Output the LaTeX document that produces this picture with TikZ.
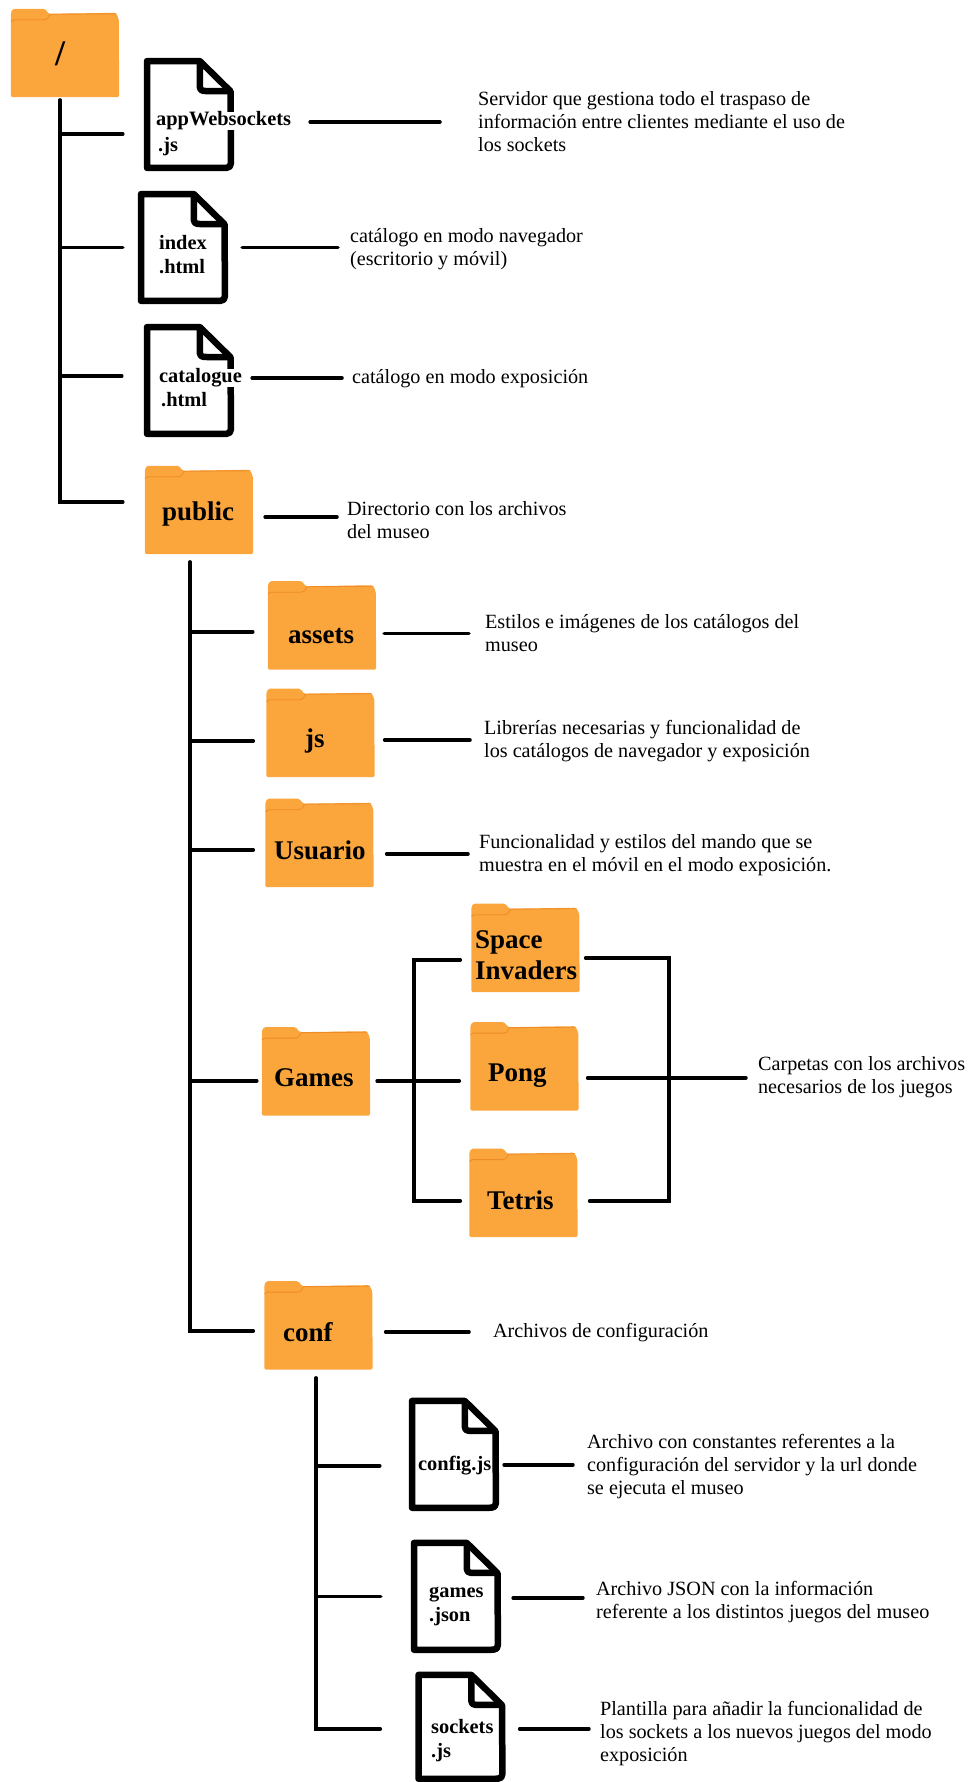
\documentclass[tikz,border=0pt]{standalone}
\usepackage{fontspec}
\setmainfont{Liberation Serif}
\definecolor{folderbody}{HTML}{FBA63D}
\definecolor{folderedge}{HTML}{EF8C28}

\begin{document}
\begin{tikzpicture}
    [x=1pt,y=-1pt,
    link/.style={line width=3.6pt,line cap=round,line join=miter},
    note/.style={anchor=west,align=left,inner sep=0pt,font=\fontsize{20.2}{23}\selectfont},
    docname/.style={anchor=base west,inner sep=0pt,font=\fontsize{20.4}{24}\bfseries\selectfont},
    foldername/.style={anchor=base west,align=left,inner sep=0pt,font=\fontsize{27}{31}\bfseries\selectfont},
    docfile/.style={rectangle,inner sep=0pt,minimum width=90pt,minimum height=113pt,
        append after command={\pgfextra{\let\docnode\tikzlastnode
            \draw [line width=6.5pt,line join=round]
            (\docnode.north west) ++(3.25,3.25) -- ++(52.75,0) -- ++(30.75,30.25)
            -- ([shift={(-3.25,-13.25)}]\docnode.south east)
            .. controls ([shift={(-3.25,-3.25)}]\docnode.south east) .. ([shift={(-13.25,-3.25)}]\docnode.south east)
            -- ([shift={(3.25,-3.25)}]\docnode.south west) -- cycle;
            \draw [line width=6.5pt,line join=round]
            (\docnode.north west) ++(56,3.25) -- ++(0,21)
            .. controls ++(0,9) .. ++(9,9) -- ++(21.75,0);
        }}},
    folder/.style={rectangle,inner sep=0pt,minimum width=108pt,minimum height=88pt,
        append after command={\pgfextra{\let\foldernode\tikzlastnode
            \fill [folderbody,rounded corners=1.5pt]
            (\foldernode.north west) ++(0,4) -- ++(2,-4) -- ++(32,0) -- ++(4,5) -- ++(67,-1)
            -- ++(3,6) -- (\foldernode.south east) -- (\foldernode.south west) -- cycle;
            \draw [folderedge,line width=.9pt,rounded corners=1.5pt]
            (\foldernode.north west) ++(.5,13) -- ++(1,-2) -- ++(33,0) -- ++(3,-1.5) -- ++(1,-4) -- ++(67,-.5);
        }}}]

    % carpetas
    \node [folder] (root) at (65,53) {};
    \node [folder] (public) at (199,510) {};
    \node [folder] (assets) at (322,625.5) {};
    \node [folder] (js) at (320.5,733) {};
    \node [folder] (usuario) at (319.5,843) {};
    \node [folder] (games) at (316,1071.5) {};
    \node [folder] (space) at (525.5,948) {};
    \node [folder] (pong) at (524.5,1066.5) {};
    \node [folder] (tetris) at (523.5,1193) {};
    \node [folder] (conf) at (318.5,1325.5) {};
    \node [foldername,font=\fontsize{36}{36}\bfseries\selectfont] (rootname) at (55,66) {/};
    \node [foldername] (publicname) at (162,521) {public};
    \node [foldername] (assetsname) at (288,644) {assets};
    \node [foldername] (jsname) at (305,748) {js};
    \node [foldername] (usuarioname) at (274,860) {Usuario};
    \node [foldername] (gamesname) at (274,1087) {Games};
    \node [foldername,anchor=west] (spacename) at (475,955) {Space\\Invaders};
    \node [foldername] (pongname) at (488,1082) {Pong};
    \node [foldername] (tetrisname) at (487,1210) {Tetris};
    \node [foldername] (confname) at (283,1342) {conf};

    % archivos
    \node [docfile] (app) at (189,114.5) {};
    \node [docfile] (index) at (183,247.5) {};
    \node [docfile] (catalogue) at (189,380.5) {};
    \node [docfile] (config) at (454,1454.5) {};
    \node [docfile] (gamesjson) at (456,1596.5) {};
    \node [docfile,minimum height=110pt] (sockets) at (460.5,1727) {};
    \node [docname,fill=white] (appname) at (156,126) {appWebsockets};
    \node [docname] (appext) at (158,152) {.js};
    \node [docname] (indexname) at (159,250) {index};
    \node [docname] (indexext) at (159,274) {.html};
    \node [docname,fill=white] (cataloguename) at (159,383) {catalogue};
    \node [docname] (catalogueext) at (161,407) {.html};
    \node [docname] (configname) at (418,1471) {config.js};
    \node [docname] (gamesjsonname) at (429,1598) {games};
    \node [docname] (gamesjsonext) at (429,1622) {.json};
    \node [docname] (socketsname) at (431,1734) {sockets};
    \node [docname] (socketsext) at (431,1758) {.js};

    % textos
    \node [note] (appnote) at (478,122) {Servidor que gestiona todo el traspaso de\\información entre clientes mediante el uso de\\los sockets};
    \node [note] (indexnote) at (350,249) {catálogo en modo navegador\\(escritorio y móvil)};
    \node [note] (cataloguenote) at (352,379) {catálogo en modo exposición};
    \node [note] (publicnote) at (347,520) {Directorio con los archivos\\del museo};
    \node [note] (assetsnote) at (485,633.5) {Estilos e imágenes de los catálogos del\\museo};
    \node [note] (jsnote) at (484,741.5) {Librerías necesarias y funcionalidad de\\los catálogos de navegador y exposición};
    \node [note] (usuarionote) at (479,855.5) {Funcionalidad y estilos del mando que se\\muestra en el móvil en el modo exposición.};
    \node [note] (gamesnote) at (758,1077.5) {Carpetas con los archivos\\necesarios de los juegos};
    \node [note] (confnote) at (493,1333) {Archivos de configuración};
    \node [note] (confignote) at (587,1467) {Archivo con constantes referentes a la\\configuración del servidor y la url donde\\se ejecuta el museo};
    \node [note] (gamesjsonnote) at (596,1602) {Archivo JSON con la información\\referente a los distintos juegos del museo};
    \node [note] (socketsnote) at (600,1734) {Plantilla para añadir la funcionalidad de\\los sockets a los nuevos juegos del modo\\exposición};

    % troncos
    \coordinate (trunka) at (60,100);
    \coordinate (trunkb) at (190,562);
    \coordinate (trunkc) at (316,1378);
    \coordinate (gamesleft) at (414,1081);
    \coordinate (gamesright) at (669,1078);

    \draw [link,shorten >=22pt] (trunka) |- ([yshift=8pt]public.west);
    \draw [link,shorten >=21pt] ([yshift=-19.5pt]app.west -| trunka) -- ([yshift=-19.5pt]app.west);
    \draw [link,shorten >=15pt] (index.west -| trunka) -- (index.west);
    \draw [link,shorten >=22pt] ([yshift=4.5pt]catalogue.west -| trunka) -- ([yshift=4.5pt]catalogue.west);

    \draw [link,shorten >=11pt] (trunkb) |- ([yshift=-5.5pt]conf.west);
    \draw [link,shorten >=15pt] ([yshift=-6.5pt]assets.west -| trunkb) -- ([yshift=-6.5pt]assets.west);
    \draw [link,shorten >=13pt] ([yshift=-8pt]js.west -| trunkb) -- ([yshift=-8pt]js.west);
    \draw [link,shorten >=12pt] ([yshift=-7pt]usuario.west -| trunkb) -- ([yshift=-7pt]usuario.west);
    \draw [link,shorten >=5pt] ([yshift=-9.5pt]games.west -| trunkb) -- ([yshift=-9.5pt]games.west);

    \draw [link,shorten >=35pt] (trunkc) |- ([yshift=-2pt]sockets.west);
    \draw [link,shorten >=29pt] ([yshift=-11.5pt]config.west -| trunkc) -- ([yshift=-11.5pt]config.west);
    \draw [link,shorten >=30pt] (gamesjson.west -| trunkc) -- (gamesjson.west);

    % hacia los textos
    \draw [link,shorten <=76pt,shorten >=38pt] (app.east |- appnote.west) -- (appnote.west);
    \draw [link,shorten <=14pt,shorten >=12pt] ([yshift=1.5pt]indexnote.west -| index.east) -- ([yshift=1.5pt]indexnote.west);
    \draw [link,shorten <=18pt,shorten >=10pt] ([yshift=1pt]cataloguenote.west -| catalogue.east) -- ([yshift=1pt]cataloguenote.west);
    \draw [link,shorten <=12pt,shorten >=10pt] ([yshift=3pt]publicnote.west -| public.east) -- ([yshift=3pt]publicnote.west);
    \draw [link,shorten <=8pt,shorten >=16pt] (assets.east |- assetsnote.west) -- (assetsnote.west);
    \draw [link,shorten <=10pt,shorten >=14pt] ([yshift=1.5pt]jsnote.west -| js.east) -- ([yshift=1.5pt]jsnote.west);
    \draw [link,shorten <=13pt,shorten >=11pt] ([yshift=1.5pt]usuarionote.west -| usuario.east) -- ([yshift=1.5pt]usuarionote.west);
    \draw [link,shorten <=13pt,shorten >=24pt] ([yshift=1pt]confnote.west -| conf.east) -- ([yshift=1pt]confnote.west);
    \draw [link,shorten <=5pt,shorten >=14pt] ([yshift=2pt]confignote.west -| config.east) -- ([yshift=2pt]confignote.west);
    \draw [link,shorten <=12pt,shorten >=13pt] ([yshift=4pt]gamesjsonnote.west -| gamesjson.east) -- ([yshift=4pt]gamesjsonnote.west);
    \draw [link,shorten <=14pt,shorten >=11pt] ([yshift=5pt]socketsnote.west -| sockets.east) -- ([yshift=5pt]socketsnote.west);

    % juegos
    \draw [link,shorten <=7pt,shorten >=11pt] ([yshift=-9.5pt]games.east) -- ([yshift=-9.5pt]games.east -| pong.west);
    \draw [link,shorten >=11pt] (gamesleft) |- ([yshift=-12pt]space.west);
    \draw [link,shorten >=9pt] (gamesleft) |- ([yshift=-8pt]tetris.west);
    \draw [link,shorten >=6pt] (gamesright) |- ([yshift=-10pt]space.east);
    \draw [link,shorten >=12pt] (gamesright) |- ([yshift=-8pt]tetris.east);
    \draw [link,shorten <=9pt,shorten >=12pt] ([yshift=-11.5pt]pong.east) -- ([yshift=-11.5pt]pong.east -| gamesnote.west);

    \useasboundingbox (0,0) rectangle (968,1782);
\end{tikzpicture}
\end{document}
